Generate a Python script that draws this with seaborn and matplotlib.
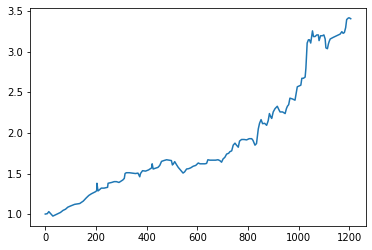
import matplotlib
matplotlib.use("Agg")
import matplotlib.pyplot as plt
import seaborn as sns
import pandas as pd

steps = [0, 8, 14, 20, 30, 40, 50, 60, 70, 80, 89, 100, 116, 126, 136, 150, 162, 172, 182, 192,
         199, 203, 204, 208, 214, 221, 232, 241, 246, 248, 262, 272, 281, 291, 301, 306, 312, 315,
         320, 332, 344, 356, 366, 373, 376, 384, 396, 408, 413, 420, 422, 426, 435, 445, 452, 459,
         468, 479, 490, 498, 502, 506, 511, 518, 525, 535, 544, 550, 558, 566, 574, 584, 594, 604,
         611, 620, 630, 637, 642, 650, 660, 672, 682, 689, 696, 702, 709, 716, 724, 729, 736, 742,
         749, 755, 762, 767, 775, 785, 795, 805, 815, 820, 828, 834, 838, 841, 846, 852, 858, 866,
         874, 880, 885, 890, 894, 900, 907, 916, 922, 927, 937, 947, 952, 956, 961, 966, 976, 986,
         991, 995, 1002, 1009, 1013, 1019, 1026, 1029, 1034, 1039, 1043, 1048, 1052, 1055, 1059,
         1065, 1072, 1078, 1081, 1087, 1094, 1100, 1105, 1108, 1114, 1118, 1121, 1125, 1131, 1137,
         1144, 1151, 1158, 1164, 1171, 1176, 1181, 1186, 1190, 1197, 1201, 1206]

values = [1.00, 1.005, 1.03, 1.01, 0.975, 0.99, 1.005, 1.02, 1.045, 1.06, 1.085, 1.10, 1.12, 1.125,
          1.13, 1.16, 1.20, 1.23, 1.25, 1.265, 1.277, 1.29, 1.38, 1.285, 1.30, 1.32, 1.32, 1.327,
          1.33, 1.38, 1.39, 1.40, 1.40, 1.39, 1.41, 1.42, 1.44, 1.50, 1.51, 1.51, 1.505, 1.50,
          1.505, 1.46, 1.50, 1.535, 1.53, 1.545, 1.556, 1.57, 1.62, 1.556, 1.565, 1.576, 1.60,
          1.65, 1.66, 1.67, 1.665, 1.66, 1.606, 1.62, 1.647, 1.61, 1.576, 1.54, 1.506, 1.52,
          1.556, 1.56, 1.57, 1.59, 1.60, 1.63, 1.62, 1.62, 1.62, 1.625, 1.67, 1.665, 1.665,
          1.665, 1.67, 1.66, 1.64, 1.68, 1.70, 1.74, 1.75, 1.77, 1.78, 1.85, 1.875, 1.85, 1.825,
          1.90, 1.92, 1.92, 1.915, 1.93, 1.93, 1.91, 1.85, 1.87, 1.97, 2.05, 2.12, 2.165, 2.115,
          2.12, 2.095, 2.15, 2.24, 2.20, 2.18, 2.26, 2.30, 2.33, 2.29, 2.26, 2.26, 2.24, 2.30,
          2.33, 2.35, 2.43, 2.42, 2.405, 2.50, 2.57, 2.58, 2.59, 2.675, 2.675, 2.69, 2.80, 3.11,
          3.15, 3.15, 3.11, 3.20, 3.26, 3.19, 3.19, 3.21, 3.21, 3.14, 3.20, 3.20, 3.21, 3.16,
          3.05, 3.04, 3.10, 3.13, 3.16, 3.17, 3.18, 3.19, 3.20, 3.21, 3.22, 3.25, 3.23, 3.24,
          3.30, 3.40, 3.42, 3.42, 3.41]

df = pd.DataFrame({"step": steps, "value": values})

fig = plt.figure(figsize=(372 / 72, 250 / 72), dpi=72)
ax = fig.add_axes([30 / 372, 1 - 226 / 250, 336 / 372, 218 / 250])
sns.lineplot(data=df, x="step", y="value", ax=ax, color="#1f77b4", linewidth=1.5)
ax.set_xlabel("")
ax.set_ylabel("")
ax.tick_params(labelsize=10)
fig.savefig("out.png", dpi=72)
